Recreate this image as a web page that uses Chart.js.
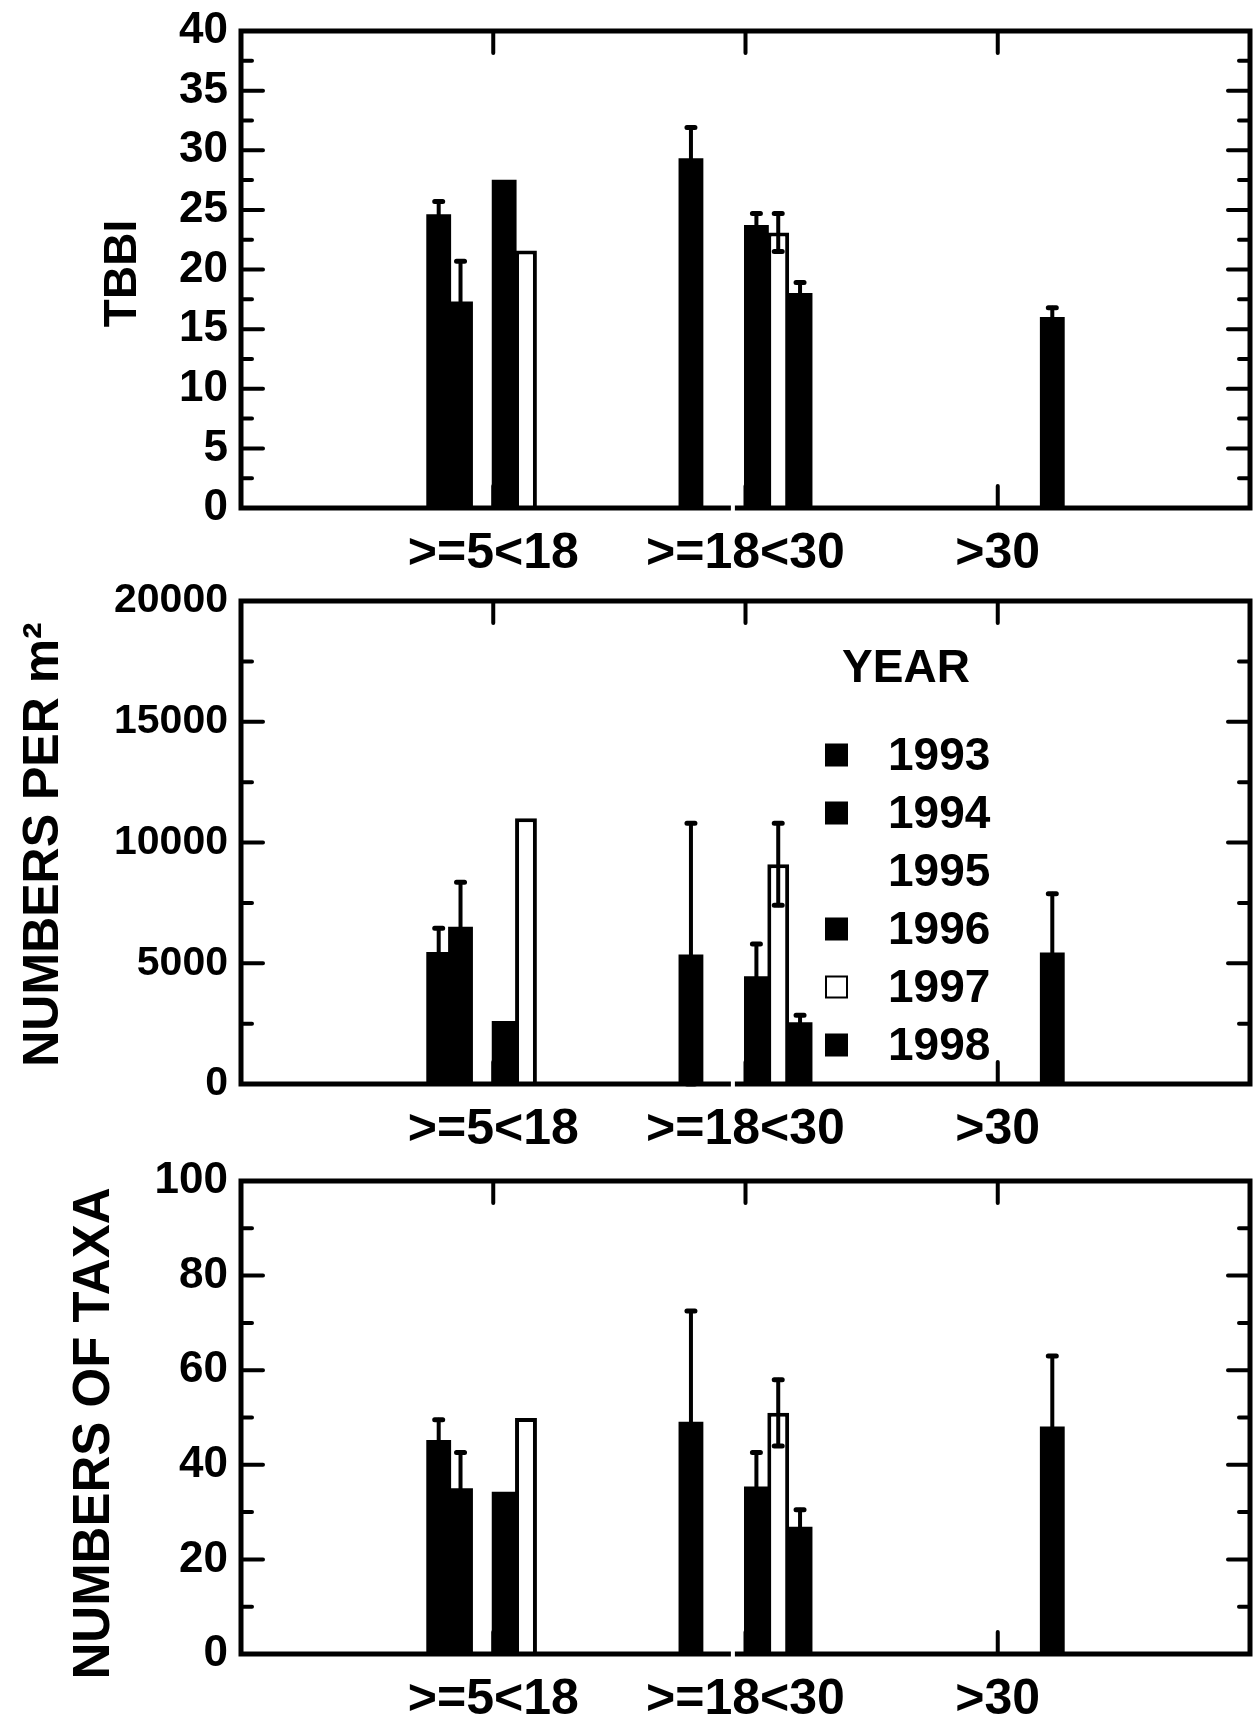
<!DOCTYPE html>
<html>
<head>
<meta charset="utf-8">
<title>TBBI, density and taxa by depth class</title>
<script src="https://cdn.jsdelivr.net/npm/chart.js@4.4.1/dist/chart.umd.min.js"></script>
<style>
  body { margin: 0; background: #fff; }
  #page { position: relative; width: 1256px; height: 1720px; overflow: hidden; }
  canvas { position: absolute; left: 0; }
</style>
</head>
<body>
<div id="page">
  <canvas id="tbbi" width="1256" height="580" style="top:0"></canvas>
  <canvas id="density" width="1256" height="580" style="top:580px"></canvas>
  <canvas id="taxa" width="1256" height="560" style="top:1160px"></canvas>
</div>
<script>
(() => {
  'use strict'

  // depth classes (x positions 1, 2, 3 on a 0..4 axis)
  const categories = ['>=5<18', '>=18<30', '>30']
  const years = ['1993', '1994', '1995', '1996', '1997', '1998']

  // rows = years, columns = depth classes
  const tbbiMeans = [
    [24.5, 29.2, 0],
    [17.2, 0, 0],
    [0, 0, 0],
    [27.4, 23.6, 0],
    [21.6, 23.1, 0],
    [0, 17.9, 15.9]
  ]
  const tbbiErrors = [
    [1.2, 2.7, 0],
    [3.5, 0, 0],
    [0, 0, 0],
    [0, 1.1, 0],
    [0, 1.6, 0],
    [0, 1.0, 0.9]
  ]

  const densityMeans = [
    [5400, 5300, 0],
    [6450, 0, 0],
    [0, 0, 0],
    [2550, 4400, 0],
    [11000, 9100, 0],
    [0, 2500, 5380]
  ]
  const densityErrors = [
    [1050, 5500, 0],
    [1900, 0, 0],
    [0, 0, 0],
    [0, 1400, 0],
    [0, 1700, 0],
    [0, 350, 2500]
  ]

  const taxaMeans = [
    [44.9, 48.8, 0],
    [34.7, 0, 0],
    [0, 0, 0],
    [34.0, 35.1, 0],
    [49.9, 51.0, 0],
    [0, 26.6, 47.8]
  ]
  const taxaErrors = [
    [4.6, 23.7, 0],
    [7.9, 0, 0],
    [0, 0, 0],
    [0, 7.5, 0],
    [0, 7.0, 0],
    [0, 3.9, 15.2]
  ]

  const FONT = '"Liberation Sans", Arial, Helvetica, sans-serif'

  const fills = ['#000', '#000', '#fff', '#000', '#fff', '#000']
  const borders = [0, 0, 0, 0, 4, 0]

  // inward ticks on all four sides, drawn under the bars
  const ticksPlugin = {
    id: 'ticksPlugin',
    beforeDatasetsDraw(chart) {
      const { ctx, chartArea: a, scales: { x, y } } = chart
      const step = y.options.ticks.stepSize
      ctx.save()
      ctx.strokeStyle = '#000'
      ctx.lineWidth = 4
      ctx.lineCap = 'round'
      ctx.beginPath()
      for (let k = 0; k * step / 2 <= y.max + 1e-9; k++) {
        const py = y.getPixelForValue(k * step / 2)
        const len = k % 2 === 0 ? 22 : 11
        ctx.moveTo(a.left, py); ctx.lineTo(a.left + len, py)
        ctx.moveTo(a.right, py); ctx.lineTo(a.right - len, py)
      }
      categories.forEach((c, i) => {
        const px = x.getPixelForValue(i + 1)
        ctx.moveTo(px, a.top); ctx.lineTo(px, a.top + 22)
        ctx.moveTo(px, a.bottom); ctx.lineTo(px, a.bottom - 22)
      })
      ctx.stroke()
      ctx.restore()
    },
    afterDatasetsDraw(chart) {
      const { ctx, chartArea: a, scales: { x, y } } = chart
      ctx.save()
      // error bars
      ctx.strokeStyle = '#000'
      ctx.lineCap = 'round'
      chart.data.datasets.forEach((ds, i) => {
        const meta = chart.getDatasetMeta(i)
        meta.data.forEach((bar, j) => {
          const e = ds.errors[j]
          if (!e) return
          const v = ds.data[j].y
          const pTop = y.getPixelForValue(v + e)
          const pBot = y.getPixelForValue(Math.max(0, v - e))
          ctx.lineWidth = 4
          ctx.beginPath()
          ctx.moveTo(bar.x, pBot); ctx.lineTo(bar.x, pTop)
          ctx.stroke()
          ctx.lineWidth = 5
          ctx.beginPath()
          ctx.moveTo(bar.x - 4, pTop); ctx.lineTo(bar.x + 4, pTop)
          ctx.moveTo(bar.x - 4, pBot); ctx.lineTo(bar.x + 4, pBot)
          ctx.stroke()
        })
      })
      // plot frame
      ctx.lineCap = 'butt'
      ctx.lineWidth = 5
      ctx.strokeRect(a.left, a.top, a.right - a.left, a.bottom - a.top)
      // small break in the bottom axis line
      ctx.fillStyle = '#fff'
      ctx.fillRect(x.getPixelForValue(1.95) - 2, a.bottom - 4, 4, 8)
      ctx.restore()
    }
  }

  // rotated y-axis title, drawn at full width (no squeezing to the plot height)
  const axisTitle = {
    id: 'axisTitle',
    afterDraw(chart, args, opts) {
      const { ctx, chartArea: a } = chart
      ctx.save()
      ctx.translate(opts.x, (a.top + a.bottom) / 2 + (opts.dy || 0))
      ctx.rotate(-Math.PI / 2)
      ctx.fillStyle = '#000'
      ctx.font = 'bold ' + opts.size + 'px ' + FONT
      ctx.textAlign = 'center'
      ctx.textBaseline = 'middle'
      ctx.fillText(opts.text, 0, 0)
      ctx.restore()
    }
  }

  // YEAR legend inside the middle panel
  const yearLegend = {
    id: 'yearLegend',
    afterDraw(chart, args, opts) {
      if (!opts.show) return
      const { ctx } = chart
      ctx.save()
      ctx.fillStyle = '#000'
      ctx.font = 'bold 46px ' + FONT
      ctx.textAlign = 'center'
      ctx.textBaseline = 'middle'
      ctx.fillText('YEAR', opts.titleX, opts.titleY)
      ctx.textAlign = 'left'
      chart.data.datasets.forEach((ds, i) => {
        const cy = opts.y + i * opts.gap
        const s = opts.box
        if (ds.backgroundColor === '#000') {
          ctx.fillStyle = '#000'
          ctx.fillRect(opts.x, cy - s / 2, s, s)
        } else if (ds.borderWidth) {
          ctx.strokeStyle = '#000'
          ctx.lineWidth = 2
          ctx.strokeRect(opts.x + 1, cy - s / 2 + 1, s - 2, s - 2)
        }
        ctx.fillStyle = '#000'
        ctx.fillText(ds.label, opts.textX, cy + 2)
      })
      ctx.restore()
    }
  }

  function makePanel(id, p) {
    const datasets = years.map((yr, i) => ({
      label: yr,
      data: categories.map((c, j) => ({ x: j + 1, y: p.means[i][j] })),
      errors: p.errors[i],
      backgroundColor: fills[i],
      borderColor: '#000',
      borderWidth: borders[i],
      borderSkipped: 'bottom',
      inflateAmount: fills[i] === '#000' ? 1.5 : 0
    }))

    return new Chart(document.getElementById(id), {
      type: 'bar',
      data: { datasets },
      plugins: [ticksPlugin, axisTitle, yearLegend],
      options: {
        responsive: false,
        animation: false,
        categoryPercentage: 0.519,
        barPercentage: 1,
        layout: { padding: { top: p.plotTop, right: 6, left: 0, bottom: 0 } },
        plugins: {
          legend: { display: false },
          tooltip: { enabled: false },
          axisTitle: p.title,
          yearLegend: p.legend || { show: false }
        },
        scales: {
          x: {
            type: 'linear',
            min: 0,
            max: 4,
            offset: false,
            grid: { display: false, drawTicks: false },
            border: { display: false },
            afterFit: s => {
              s.height = p.xHeight
              s.paddingLeft = 0
              s.paddingRight = 0
            },
            ticks: {
              stepSize: 1,
              autoSkip: false,
              maxRotation: 0,
              padding: 16,
              color: '#000',
              font: { family: FONT, size: 50, weight: 'bold' },
              callback: v => categories[v - 1] || ''
            }
          },
          y: {
            min: 0,
            max: p.yMax,
            grid: { display: false, drawTicks: false },
            border: { display: false },
            afterFit: s => {
              s.width = 241
              s.paddingTop = 0
              s.paddingBottom = 0
            },
            ticks: {
              stepSize: p.yStep,
              padding: 13,
              color: '#000',
              font: { family: FONT, size: p.tickSize, weight: 'bold' },
              callback: v => String(v)
            }
          }
        }
      }
    })
  }

  makePanel('tbbi', {
    means: tbbiMeans, errors: tbbiErrors, yMax: 40, yStep: 5, tickSize: 44,
    plotTop: 31, xHeight: 72,
    title: { text: 'TBBI', size: 46, x: 123, dy: 4 }
  })
  makePanel('density', {
    means: densityMeans, errors: densityErrors, yMax: 20000, yStep: 5000, tickSize: 41,
    plotTop: 21, xHeight: 76,
    title: { text: 'NUMBERS PER m\u00b2', size: 50, x: 44, dy: 2 },
    legend: { show: true, titleX: 906, titleY: 89, x: 825, y: 175, gap: 58, box: 23, textX: 888 }
  })
  makePanel('taxa', {
    means: taxaMeans, errors: taxaErrors, yMax: 100, yStep: 20, tickSize: 44,
    plotTop: 21, xHeight: 66,
    title: { text: 'NUMBERS OF TAXA', size: 51, x: 95, dy: 16 }
  })
})()
</script>
</body>
</html>
